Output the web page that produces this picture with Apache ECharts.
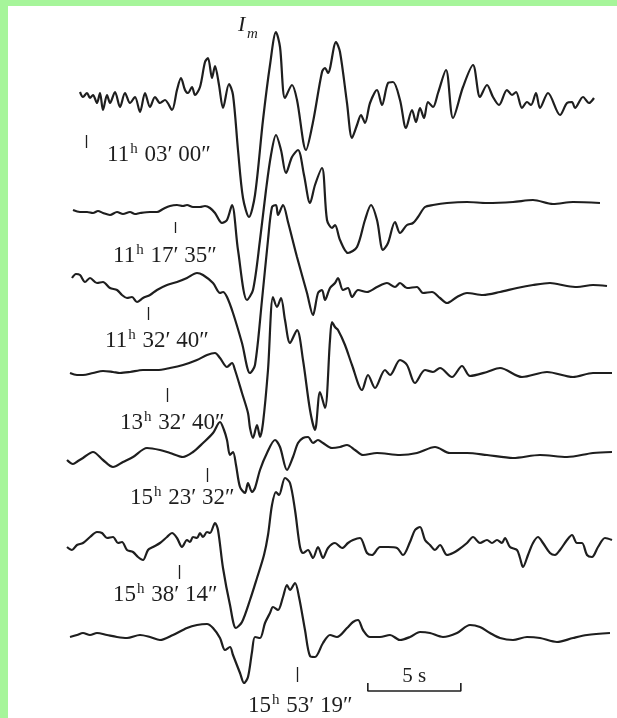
<!DOCTYPE html>
<html>
<head>
<meta charset="utf-8">
<script src="https://cdn.jsdelivr.net/npm/echarts@6/dist/echarts.min.js"></script>
<style>html,body{margin:0;padding:0;background:#fff}#c{width:617px;height:718px}</style>
</head>
<body>
<div id="c"></div>
<script>
// Sampling: samples counted along the record, 18.6 samples per second (5 s scale bar = 93 samples)
const SAMPLE_RATE = 18.6;
// Each trace: [sample, amplitude] (amplitude positive up)
const trace1 = [[20,8],[23,3],[27,7],[30,2],[33,5],[37,-3],[40,7],[43,-10],[47,5],[50,-3],[55,8],[60,-7],[65,7],[70,-3],[75,3],[80,-12],[85,7],[90,-7],[95,3],[100,-3],[105,0],[112,-10],[117,10],[121,22],[125,10],[128,7],[132,13],[135,5],[140,13],[145,38],[148,42],[152,22],[155,34],[159,15],[163,-8],[169,16],[173,5],[178,-50],[183,-98],[189,-117],[195,-95],[203,-20],[210,35],[216,68],[220,53],[225,2],[232,15],[237,0],[246,-50],[253,-22],[262,28],[265,32],[268,27],[276,58],[280,48],[287,-3],[292,-38],[297,-25],[301,-15],[305,-23],[310,-3],[317,10],[322,-5],[328,17],[333,18],[340,0],[346,-28],[352,-10],[356,-22],[360,-8],[364,-18],[368,-2],[373,-7],[378,7],[386,30],[393,-18],[403,13],[413,35],[420,3],[427,15],[433,3],[439,-5],[447,10],[452,5],[456,8],[462,-8],[467,-2],[471,-5],[476,7],[480,-8],[488,7],[500,-15],[507,-3],[512,-2],[515,-8],[523,3],[529,-3],[534,2]];
const trace2 = [[13,0],[20,-2],[27,-2],[33,-3],[38,-1],[43,-3],[50,-5],[57,-2],[63,-4],[70,-2],[75,-4],[80,-3],[90,-2],[97,-2],[103,1],[110,4],[117,5],[123,4],[127,5],[133,3],[140,3],[145,4],[150,2],[155,-3],[162,-13],[167,-10],[172,5],[178,-40],[187,-90],[193,-80],[200,-30],[206,20],[211,55],[216,75],[221,60],[226,37],[232,53],[238,60],[244,35],[250,7],[255,25],[262,42],[267,-10],[272,-18],[275,-15],[280,-30],[288,-43],[297,-37],[305,-10],[311,5],[317,-10],[323,-40],[328,-33],[335,-12],[340,-23],[347,-15],[353,-13],[358,-7],[365,3],[373,5],[387,7],[407,8],[427,7],[453,8],[473,10],[493,6],[513,8],[540,7]];
const trace3 = [[12,7],[16,11],[20,10],[25,3],[30,7],[37,2],[43,3],[50,-3],[57,-5],[62,-10],[67,-13],[72,-12],[77,-17],[83,-13],[90,-10],[97,-5],[107,0],[117,3],[127,7],[137,12],[143,10],[153,2],[160,-8],[163,-7],[167,-12],[173,-28],[182,-58],[190,-88],[195,-80],[202,-15],[208,45],[212,78],[216,80],[218,70],[223,80],[228,63],[237,28],[247,-8],[253,-30],[258,-8],[262,-5],[265,-15],[270,-3],[275,2],[278,7],[283,-5],[288,-3],[292,-12],[298,-5],[307,-7],[317,-2],[327,2],[335,-2],[340,2],[347,-3],[357,-2],[363,-8],[372,-7],[380,-13],[387,-18],[397,-12],[407,-8],[423,-10],[440,-7],[457,-3],[473,0],[490,2],[507,-1],[517,-2],[533,0],[547,-1]];
const trace4 = [[10,-3],[17,-5],[23,-5],[33,-3],[43,-1],[53,-2],[60,-3],[70,-2],[83,0],[97,0],[110,2],[123,5],[137,10],[147,15],[155,17],[160,12],[167,3],[172,7],[175,0],[182,-23],[188,-43],[190,-58],[193,-68],[197,-55],[200,-67],[203,-53],[208,0],[213,73],[217,63],[221,72],[225,50],[230,27],[237,40],[243,10],[250,-40],[255,-60],[260,-22],[265,-38],[270,30],[272,48],[275,43],[278,40],[285,25],[292,5],[302,-20],[308,-5],[315,-18],[325,0],[330,-5],[340,10],[347,5],[355,-13],[365,0],[373,-2],[380,2],[392,-7],[402,4],[410,-6],[427,-2],[440,2],[462,-7],[487,-2],[513,-7],[533,-3],[552,-3]];
const trace5 = [[7,-5],[13,-9],[18,-6],[23,-3],[33,3],[43,-5],[53,-12],[63,-7],[73,-2],[87,7],[100,5],[110,2],[123,-2],[133,3],[143,12],[153,22],[160,33],[164,25],[167,15],[170,0],[173,3],[176,-10],[180,-32],[185,-38],[188,-28],[192,-37],[195,-33],[200,-15],[207,2],[215,15],[220,8],[227,-15],[233,-2],[238,12],[243,17],[248,18],[253,12],[258,15],[263,12],[272,7],[280,8],[287,10],[295,5],[303,0],[317,2],[340,0],[357,2],[375,8],[390,2],[407,2],[427,0],[453,-3],[480,0],[507,-2],[533,2],[552,3]];
const trace6 = [[7,-2],[12,-5],[17,0],[23,2],[30,8],[37,13],[42,12],[47,7],[53,8],[58,2],[62,3],[67,-5],[73,-7],[78,-12],[83,-15],[88,-5],[93,-2],[100,2],[107,8],[112,12],[117,7],[122,-2],[127,5],[130,3],[133,8],[137,7],[140,12],[143,8],[147,13],[150,12],[155,22],[158,15],[163,-23],[170,-60],[176,-83],[182,-77],[190,-55],[197,-33],[204,-10],[208,10],[212,40],[216,53],[219,50],[225,67],[230,62],[235,35],[240,-2],[243,-8],[248,-5],[253,-13],[258,-2],[263,-13],[268,-3],[275,2],[282,-3],[288,2],[293,5],[300,7],[307,-8],[312,-10],[320,-2],[328,-2],[337,-3],[343,-10],[350,3],[355,15],[360,18],[365,5],[370,0],[375,-5],[380,0],[387,-10],[393,-8],[398,-5],[407,2],[413,8],[420,2],[427,5],[432,2],[437,5],[442,2],[445,7],[450,-2],[457,-5],[460,-13],[463,-22],[468,-10],[473,2],[478,8],[483,2],[490,-8],[495,-10],[500,-5],[507,5],[512,10],[517,2],[522,2],[527,-10],[532,-12],[538,-2],[545,7],[552,5]];
const trace7 = [[10,-2],[17,0],[23,2],[30,0],[37,2],[47,0],[57,-2],[67,-3],[80,0],[90,-2],[100,-5],[113,0],[127,7],[137,10],[147,11],[153,7],[160,-3],[165,-15],[170,-12],[173,-20],[180,-38],[184,-48],[188,-42],[192,-17],[195,-2],[200,-3],[205,12],[210,22],[213,28],[218,25],[223,38],[227,50],[230,45],[235,52],[239,38],[245,5],[250,-21],[255,-22],[263,-8],[270,0],[277,-2],[287,7],[293,13],[298,15],[303,5],[310,-2],[320,-2],[330,0],[340,-5],[350,-2],[360,3],[370,2],[383,-2],[397,2],[410,10],[420,8],[430,2],[440,-3],[453,-5],[467,-2],[480,-3],[497,-7],[513,-3],[527,0],[550,2]];
const traces = [trace1, trace2, trace3, trace4, trace5, trace6, trace7];

// Record start times
const labelHours = ['11','11','11','13','15','15','15'];
const labelRest  = ['03′ 00″','17′ 35″','32′ 40″','32′ 40″','23′ 32″','38′ 14″','53′ 19″'];
// Time mark on each trace (sample index)
const markSamples = [26, 115, 88, 107, 147, 119, 237];

// ---- layout (not data) ----
const traceOffsets = [618, 508, 433, 348, 263, 173, 83];
const markSpan = [[-35,-48],[-12,-23],[-22,-35],[-18,-32],[-13,-27],[-20,-34],[-32,-47]];
const labelPos = [[47,-55],[53,-46],[45,-56],[60,-53],[70,-43],[53,-50],[188,-71]];
const SCALE_BAR_SECONDS = 5;
const scaleBarStart = 16.55; // s
const scaleBarLevel = [27, 35];

const chart = echarts.init(document.getElementById('c'), null, {renderer: 'canvas'});
const LINE = '#1e1e1e';
const series = traces.map((tr, i) => ({
  type: 'line',
  data: tr.map(([s, a]) => [s / SAMPLE_RATE, traceOffsets[i] + a]),
  showSymbol: false,
  smooth: 0.3,
  lineStyle: {color: LINE, width: 2.2},
  silent: true,
  z: 3,
  markLine: {
    silent: true, symbol: 'none', label: {show: false},
    lineStyle: {color: LINE, width: 1.3, type: 'solid'},
    data: [[{coord: [markSamples[i] / SAMPLE_RATE, traceOffsets[i] + markSpan[i][0]]},
            {coord: [markSamples[i] / SAMPLE_RATE, traceOffsets[i] + markSpan[i][1]]}]]
  }
}));
series.push({
  type: 'line', showSymbol: false, silent: true,
  lineStyle: {color: LINE, width: 1.6},
  data: [[scaleBarStart, scaleBarLevel[1]], [scaleBarStart, scaleBarLevel[0]],
         [scaleBarStart + SCALE_BAR_SECONDS, scaleBarLevel[0]], [scaleBarStart + SCALE_BAR_SECONDS, scaleBarLevel[1]]]
});

chart.setOption({
  backgroundColor: '#ffffff',
  animation: false,
  grid: {left: 60, top: 0, width: 557, height: 718},
  xAxis: {type: 'value', min: 0, max: 557 / SAMPLE_RATE, show: false},
  yAxis: {type: 'value', min: 0, max: 718, show: false},
  series: series
});

const serif = '"Liberation Serif", "Times New Roman", "DejaVu Serif", serif';
const g = [
  {type: 'rect', shape: {x: 0, y: 0, width: 617, height: 6}, style: {fill: '#a6f59a'}, z: 10},
  {type: 'rect', shape: {x: 0, y: 0, width: 8, height: 718}, style: {fill: '#a6f59a'}, z: 10}
];
labelPos.forEach(([s, a], i) => {
  const p = chart.convertToPixel({gridIndex: 0}, [s / SAMPLE_RATE, traceOffsets[i] + a]);
  g.push({
    type: 'text', x: p[0], y: p[1], z: 5,
    style: {
      text: '{n|' + labelHours[i] + '}{h|h}{n| ' + labelRest[i] + '}',
      verticalAlign: 'middle', align: 'left',
      rich: {
        n: {fontFamily: serif, fontSize: 23, fill: '#1e1e1e', lineHeight: 26},
        h: {fontFamily: serif, fontSize: 15, fill: '#1e1e1e', lineHeight: 26, verticalAlign: 'top', padding: [0, 1, 9, 1]}
      }
    }
  });
});
// I_m annotation and scale bar text
g.push({type: 'text', x: 238, y: 36, z: 5, style: {text: 'I', fontFamily: serif, fontStyle: 'italic', fontSize: 22, fill: '#1e1e1e', verticalAlign: 'bottom'}});
g.push({type: 'text', x: 247, y: 42, z: 5, style: {text: 'm', fontFamily: serif, fontStyle: 'italic', fontSize: 15, fill: '#1e1e1e', verticalAlign: 'bottom'}});
const sp = chart.convertToPixel({gridIndex: 0}, [scaleBarStart + SCALE_BAR_SECONDS / 2, scaleBarLevel[0]]);
g.push({type: 'text', x: sp[0], y: sp[1] - 15, z: 5, style: {text: '5 s', fontFamily: serif, fontSize: 21, fill: '#1e1e1e', align: 'center', verticalAlign: 'middle'}});
chart.setOption({graphic: g});
</script>
</body>
</html>
